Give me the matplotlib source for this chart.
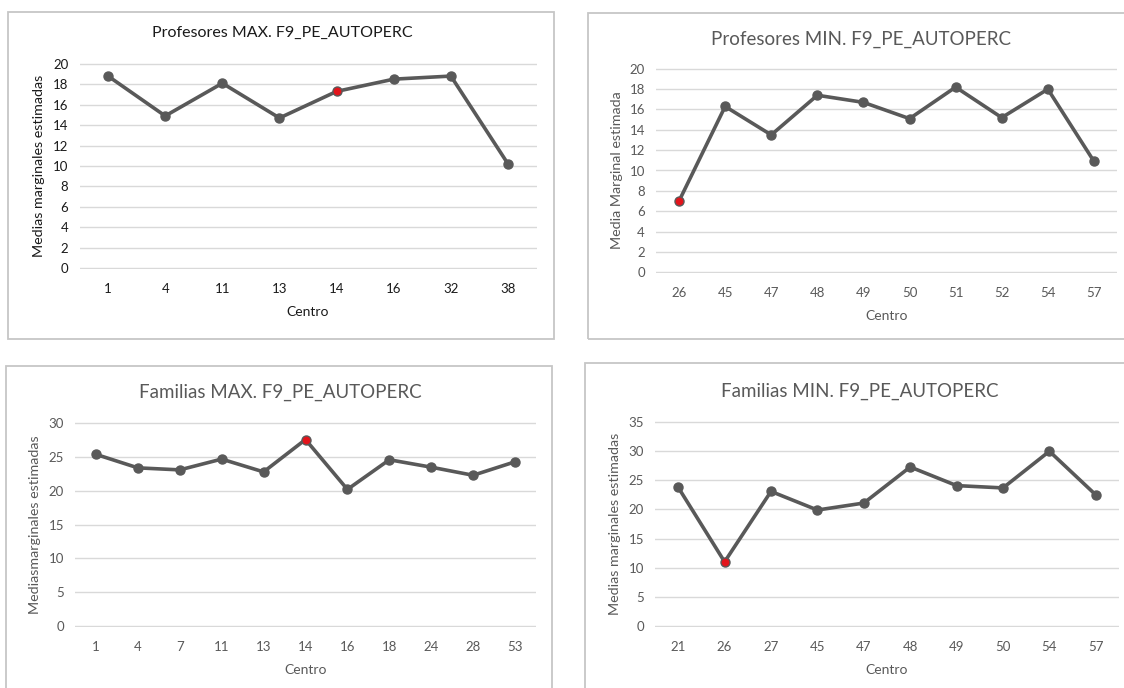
import matplotlib.pyplot as plt
from matplotlib.patches import Rectangle

plt.rcParams['font.family'] = ['Lato', 'DejaVu Sans']

W, H = 1124, 688

# Profesores MAX
prof_max_centros = ['1', '4', '11', '13', '14', '16', '32', '38']
prof_max_medias = [18.8, 14.9, 18.1, 14.7, 17.3, 18.5, 18.8, 10.2]

# Profesores MIN
prof_min_centros = ['26', '45', '47', '48', '49', '50', '51', '52', '54', '57']
prof_min_medias = [7.0, 16.3, 13.5, 17.4, 16.7, 15.1, 18.2, 15.2, 18.0, 10.9]

# Familias MAX
fam_max_centros = ['1', '4', '7', '11', '13', '14', '16', '18', '24', '28', '53']
fam_max_medias = [25.4, 23.4, 23.1, 24.7, 22.8, 27.6, 20.2, 24.6, 23.5, 22.3, 24.3]

# Familias MIN
fam_min_centros = ['21', '26', '27', '45', '47', '48', '49', '50', '54', '57']
fam_min_medias = [23.8, 11.0, 23.1, 19.9, 21.1, 27.3, 24.1, 23.7, 30.0, 22.5]

fig = plt.figure(figsize=(W / 100, H / 100), dpi=100)


def px_box(x0, y0, x1, y1):
    # pixel box (top-left origin) -> figure fraction [left, bottom, width, height]
    return [x0 / W, 1 - y1 / H, (x1 - x0) / W, (y1 - y0) / H]


def frame(x0, y0, x1, y1):
    l, b, w, h = px_box(x0, y0, x1, y1)
    fig.patches.append(Rectangle((l, b), w, h, transform=fig.transFigure,
                                 fill=False, edgecolor='#c6c6c6', linewidth=1.3))


def panel(box, centros, medias, ymax, step, highlight, title, ylabel,
          title_xy, ylabel_x, text_color, title_size):
    ax = fig.add_axes(px_box(*box))
    xs = range(len(centros))
    ax.plot(xs, medias, color='#595959', linewidth=2.6, marker='o',
            markersize=6.5, zorder=3)
    ax.plot([highlight], [medias[highlight]], 'o', color='#e3141b',
            markersize=4.5, zorder=4)
    ax.set_xlim(-0.5, len(centros) - 0.5)
    ax.set_ylim(-0.04 * step, ymax + 0.04 * step)
    ax.set_yticks(range(0, ymax + 1, step))
    ax.set_xticks(list(xs))
    ax.set_xticklabels(centros)
    ax.grid(axis='y', color='#d9d9d9', linewidth=1)
    ax.set_axisbelow(True)
    for s in ax.spines.values():
        s.set_visible(False)
    ax.tick_params(length=0, labelsize=9.5, colors=text_color)
    ax.tick_params(axis='x', pad=10)
    ax.tick_params(axis='y', pad=8)
    ax.set_xlabel('Centro', fontsize=10, color=text_color, labelpad=8)
    fig.text(title_xy[0] / W, 1 - title_xy[1] / H, title, ha='center',
             va='center', fontsize=title_size, color=text_color)
    cy = (box[1] + box[3]) / 2
    fig.text(ylabel_x / W, 1 - cy / H, ylabel, rotation=90, ha='center',
             va='center', fontsize=10.3, color=text_color)
    return ax


frame(8, 12, 554, 339)
frame(588, 13, 1130, 339)
frame(6, 366, 552, 700)
frame(585, 363, 1130, 700)

panel((79.5, 63, 536.6, 269), prof_max_centros, prof_max_medias, 20, 2, 4,
      'Profesores MAX. F9_PE_AUTOPERC', 'Medias marginales estimadas',
      (282, 33), 39, '#1a1a1a', 11.5)
panel((656, 68, 1117, 273), prof_min_centros, prof_min_medias, 20, 2, 0,
      'Profesores MIN. F9_PE_AUTOPERC', 'Media Marginal estimada',
      (861, 39), 617, '#595959', 13.5)
panel((75, 422, 536, 627), fam_max_centros, fam_max_medias, 30, 5, 5,
      'Familias MAX. F9_PE_AUTOPERC', 'Mediasmarginales estimadas',
      (280, 392), 35, '#595959', 13.5)
panel((655, 421, 1119, 627), fam_min_centros, fam_min_medias, 35, 5, 1,
      'Familias MIN. F9_PE_AUTOPERC', 'Medias marginales estimadas',
      (860, 391), 615, '#595959', 13.5)

fig.savefig('out.png', dpi=100)
